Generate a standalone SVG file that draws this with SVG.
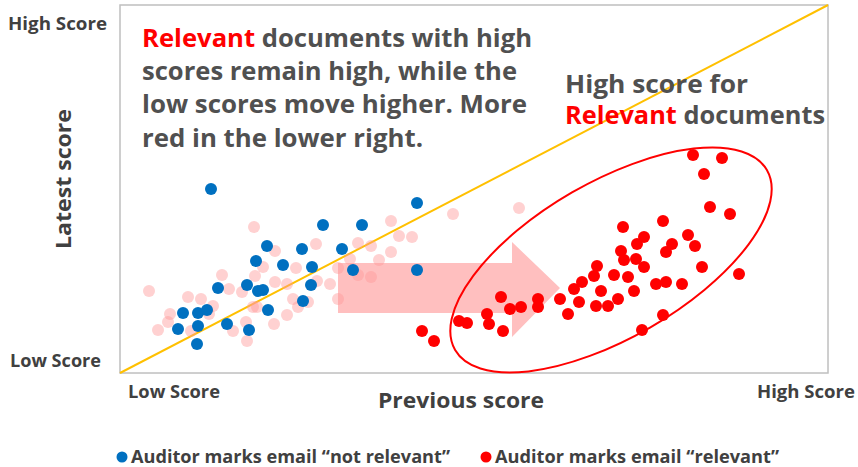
<svg xmlns="http://www.w3.org/2000/svg" width="858" height="467" viewBox="0 0 858 467">
<style>
.lab{font-family:"Open Sans","Liberation Sans",sans-serif;font-weight:700;fill:#404040}
.big{font-family:"Open Sans","Liberation Sans",sans-serif;font-weight:700;fill:#505050;font-size:25.5px}
.red{fill:#FF0000}
.b{fill:#0070C0}
.r{fill:#FF0000}
.p{fill:#FF9999;fill-opacity:0.45}
</style>
<rect width="858" height="467" fill="#ffffff"/>
<g id="frame">
<rect x="120" y="5" width="708" height="368" fill="none" stroke="#BFBFBF" stroke-width="1.5"/>
</g>
<g id="diagonal">
<line x1="120" y1="373" x2="828" y2="5" stroke="#FFC000" stroke-width="2"/>
</g>
<g id="shift-arrow">
<path d="M338,263 H512 V242 L560,288 L512,337 V313 H338 Z" fill="#FF8080" fill-opacity="0.5"/>
</g>
<g id="previous-relevant">
<circle class="p" cx="254" cy="227" r="6"/>
<circle class="p" cx="275" cy="251" r="6"/>
<circle class="p" cx="263" cy="267" r="6"/>
<circle class="p" cx="222" cy="275" r="6"/>
<circle class="p" cx="255" cy="276" r="6"/>
<circle class="p" cx="229" cy="289" r="6"/>
<circle class="p" cx="242" cy="292" r="6"/>
<circle class="p" cx="275" cy="282" r="6"/>
<circle class="p" cx="287" cy="284" r="6"/>
<circle class="p" cx="296" cy="268" r="6"/>
<circle class="p" cx="316" cy="244" r="6"/>
<circle class="p" cx="149" cy="291" r="6"/>
<circle class="p" cx="188" cy="297" r="6"/>
<circle class="p" cx="201" cy="299" r="6"/>
<circle class="p" cx="213" cy="306" r="6"/>
<circle class="p" cx="209" cy="314" r="6"/>
<circle class="p" cx="253" cy="307" r="6"/>
<circle class="p" cx="257" cy="307" r="6"/>
<circle class="p" cx="170" cy="314" r="6"/>
<circle class="p" cx="168" cy="322" r="6"/>
<circle class="p" cx="158" cy="330" r="6"/>
<circle class="p" cx="191" cy="331" r="6"/>
<circle class="p" cx="246" cy="322" r="6"/>
<circle class="p" cx="233" cy="331" r="6"/>
<circle class="p" cx="247" cy="341" r="6"/>
<circle class="p" cx="274" cy="324" r="6"/>
<circle class="p" cx="287" cy="315" r="6"/>
<circle class="p" cx="293" cy="299" r="6"/>
<circle class="p" cx="298" cy="307" r="6"/>
<circle class="p" cx="308" cy="302" r="6"/>
<circle class="p" cx="317" cy="281" r="6"/>
<circle class="p" cx="453" cy="214" r="6"/>
<circle class="p" cx="519" cy="208" r="6"/>
<circle class="p" cx="391" cy="221" r="6"/>
<circle class="p" cx="399" cy="236" r="6"/>
<circle class="p" cx="412" cy="237" r="6"/>
<circle class="p" cx="358" cy="243" r="6"/>
<circle class="p" cx="371" cy="246" r="6"/>
<circle class="p" cx="391" cy="252" r="6"/>
<circle class="p" cx="350" cy="259" r="6"/>
<circle class="p" cx="379" cy="260" r="6"/>
<circle class="p" cx="338" cy="268" r="6"/>
<circle class="p" cx="358" cy="275" r="6"/>
<circle class="p" cx="371" cy="277" r="6"/>
<circle class="p" cx="330" cy="284" r="6"/>
<circle class="p" cx="338" cy="299" r="6"/>
</g>
<g id="not-relevant">
<circle class="b" cx="211" cy="189" r="6"/>
<circle class="b" cx="267" cy="246" r="6"/>
<circle class="b" cx="256" cy="261" r="6"/>
<circle class="b" cx="283" cy="265" r="6"/>
<circle class="b" cx="302" cy="249" r="6"/>
<circle class="b" cx="312" cy="267" r="6"/>
<circle class="b" cx="323" cy="225" r="6"/>
<circle class="b" cx="218" cy="288" r="6"/>
<circle class="b" cx="247" cy="285" r="6"/>
<circle class="b" cx="258" cy="291" r="6"/>
<circle class="b" cx="263" cy="290" r="6"/>
<circle class="b" cx="311" cy="285" r="6"/>
<circle class="b" cx="303" cy="301" r="6"/>
<circle class="b" cx="268" cy="310" r="6"/>
<circle class="b" cx="183" cy="313" r="6"/>
<circle class="b" cx="198" cy="313" r="6"/>
<circle class="b" cx="207" cy="310" r="6"/>
<circle class="b" cx="198" cy="326" r="6"/>
<circle class="b" cx="178" cy="329" r="6"/>
<circle class="b" cx="227" cy="324" r="6"/>
<circle class="b" cx="249" cy="330" r="6"/>
<circle class="b" cx="197" cy="344" r="6"/>
<circle class="b" cx="417" cy="203" r="6"/>
<circle class="b" cx="362" cy="225" r="6"/>
<circle class="b" cx="342" cy="249" r="6"/>
<circle class="b" cx="353" cy="270" r="6"/>
<circle class="b" cx="417" cy="270" r="6"/>
</g>
<g id="relevant">
<circle class="r" cx="693" cy="155" r="6"/>
<circle class="r" cx="722" cy="158" r="6"/>
<circle class="r" cx="704" cy="174" r="6"/>
<circle class="r" cx="710" cy="207" r="6"/>
<circle class="r" cx="730" cy="214" r="6"/>
<circle class="r" cx="623" cy="227" r="6"/>
<circle class="r" cx="663" cy="221" r="6"/>
<circle class="r" cx="644" cy="237" r="6"/>
<circle class="r" cx="637" cy="244" r="6"/>
<circle class="r" cx="688" cy="235" r="6"/>
<circle class="r" cx="672" cy="244" r="6"/>
<circle class="r" cx="695" cy="246" r="6"/>
<circle class="r" cx="621" cy="251" r="6"/>
<circle class="r" cx="624" cy="260" r="6"/>
<circle class="r" cx="636" cy="259" r="6"/>
<circle class="r" cx="666" cy="252" r="6"/>
<circle class="r" cx="644" cy="267" r="6"/>
<circle class="r" cx="702" cy="267" r="6"/>
<circle class="r" cx="739" cy="274" r="6"/>
<circle class="r" cx="597" cy="266" r="6"/>
<circle class="r" cx="594" cy="276" r="6"/>
<circle class="r" cx="614" cy="275" r="6"/>
<circle class="r" cx="628" cy="277" r="6"/>
<circle class="r" cx="582" cy="282" r="6"/>
<circle class="r" cx="574" cy="289" r="6"/>
<circle class="r" cx="601" cy="291" r="6"/>
<circle class="r" cx="634" cy="291" r="6"/>
<circle class="r" cx="656" cy="284" r="6"/>
<circle class="r" cx="666" cy="282" r="6"/>
<circle class="r" cx="682" cy="284" r="6"/>
<circle class="r" cx="560" cy="299" r="6"/>
<circle class="r" cx="579" cy="302" r="6"/>
<circle class="r" cx="596" cy="306" r="6"/>
<circle class="r" cx="608" cy="306" r="6"/>
<circle class="r" cx="618" cy="299" r="6"/>
<circle class="r" cx="568" cy="314" r="6"/>
<circle class="r" cx="663" cy="315" r="6"/>
<circle class="r" cx="642" cy="330" r="6"/>
<circle class="r" cx="538" cy="299" r="6"/>
<circle class="r" cx="538" cy="307" r="6"/>
<circle class="r" cx="521" cy="307" r="6"/>
<circle class="r" cx="510" cy="309" r="6"/>
<circle class="r" cx="501" cy="297" r="6"/>
<circle class="r" cx="487" cy="314" r="6"/>
<circle class="r" cx="489" cy="324" r="6"/>
<circle class="r" cx="503" cy="331" r="6"/>
<circle class="r" cx="459" cy="321" r="6"/>
<circle class="r" cx="467" cy="323" r="6"/>
<circle class="r" cx="422" cy="331" r="6"/>
<circle class="r" cx="434" cy="341" r="6"/>
</g>
<g id="highlight-ellipse">
<ellipse cx="611" cy="260" rx="180" ry="78" transform="rotate(-30 611 260)" fill="none" stroke="#FF0000" stroke-width="2"/>
</g>
<g id="main-note">
<text class="big" x="142" y="47" textLength="390" lengthAdjust="spacingAndGlyphs"><tspan class="red">Relevant</tspan> documents with high</text>
<text class="big" x="142" y="80" textLength="375" lengthAdjust="spacingAndGlyphs">scores remain high, while the</text>
<text class="big" x="142" y="113" textLength="385" lengthAdjust="spacingAndGlyphs">low scores move higher. More</text>
<text class="big" x="142" y="146.5" textLength="281" lengthAdjust="spacingAndGlyphs">red in the lower right.</text>
</g>
<g id="ellipse-note">
<text class="big" x="565" y="93" textLength="183" lengthAdjust="spacingAndGlyphs">High score for</text>
<text class="big" x="565" y="124" textLength="260" lengthAdjust="spacingAndGlyphs"><tspan class="red">Relevant</tspan> documents</text>
</g>
<g id="axes-labels">
<text class="lab" x="8" y="30" font-size="17" textLength="99" lengthAdjust="spacingAndGlyphs">High Score</text>
<text class="lab" x="10" y="367" font-size="17" textLength="91" lengthAdjust="spacingAndGlyphs">Low Score</text>
<text class="lab" x="128" y="398" font-size="17" textLength="92" lengthAdjust="spacingAndGlyphs">Low Score</text>
<text class="lab" x="757" y="398" font-size="17" textLength="98" lengthAdjust="spacingAndGlyphs">High Score</text>
<text class="lab" x="461" y="408" font-size="22" text-anchor="middle" textLength="166" lengthAdjust="spacingAndGlyphs">Previous score</text>
<text class="lab" x="0" y="0" font-size="22" text-anchor="middle" textLength="140" lengthAdjust="spacingAndGlyphs" transform="translate(71 179) rotate(-90)">Latest score</text>
</g>
<g id="legend">
<circle class="b" cx="122" cy="457" r="5.5"/>
<text class="lab" x="131" y="463" font-size="17.5" textLength="319" lengthAdjust="spacingAndGlyphs">Auditor marks email “not relevant”</text>
<circle class="r" cx="486" cy="457" r="5.5"/>
<text class="lab" x="495" y="463" font-size="17.5" textLength="284" lengthAdjust="spacingAndGlyphs">Auditor marks email “relevant”</text>
</g>
</svg>
